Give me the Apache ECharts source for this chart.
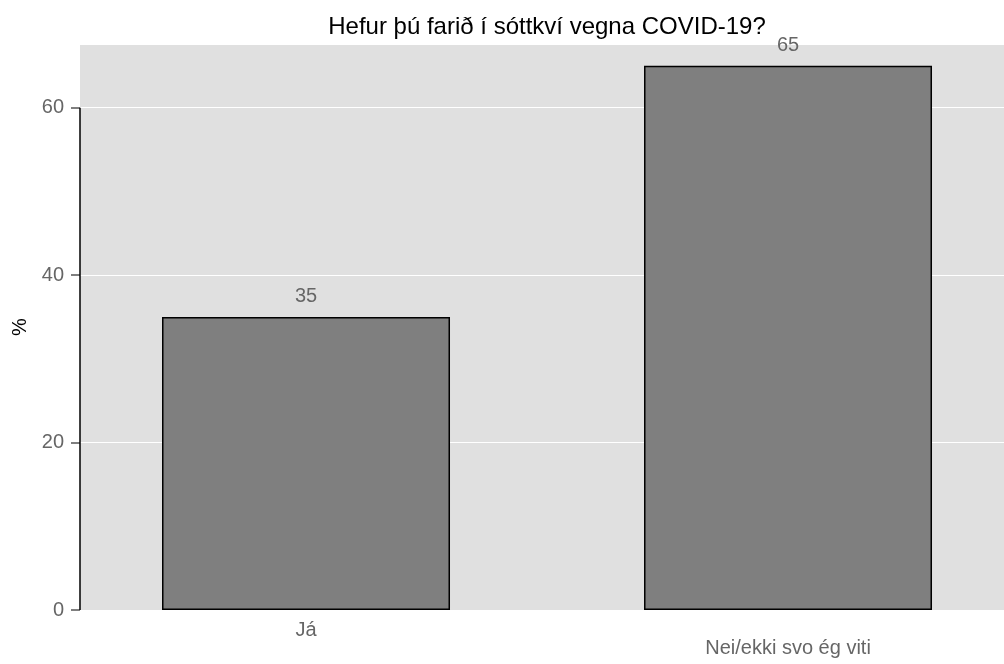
<!DOCTYPE html>
<html>
<head>
<meta charset="utf-8">
<script src="https://cdn.jsdelivr.net/npm/echarts@6/dist/echarts.min.js"></script>
<style>
    html, body { margin: 0; padding: 0; background: #ffffff; }
    #main { width: 1004px; height: 664px; }
</style>
</head>
<body>
<div id="main"></div>
<script>
// data
var categories = ["Já", "Nei/ekki svo ég viti"];
var positions = [1, 2];
var values = [35, 65];
var yTicks = [0, 20, 40, 60];

var xMin = 0.5311;
var xMax = 2.4481;

function char1() {
    var myChart = echarts.init(document.getElementById("main"));

    var barData = positions.map(function (p, i) {
        return [p, values[i]];
    });

    var option = {
        animation: false,
        textStyle: { fontFamily: "Liberation Sans, Arial, sans-serif" },
        title: {
            text: "Hefur þú farið í sóttkví vegna COVID-19?",
            left: 542,
            textAlign: "center",
            top: 10,
            textStyle: {
                color: "#000000",
                fontSize: 24,
                fontWeight: "normal",
            },
        },
        grid: {
            left: 80,
            right: 0,
            top: 44,
            bottom: 54,
            show: true,
            backgroundColor: "#e0e0e0",
            borderWidth: 0,
            outerBoundsMode: "none",
            containLabel: false,
        },
        xAxis: {
            type: "value",
            min: xMin,
            max: xMax,
            axisLine: { show: false },
            axisTick: { show: false },
            splitLine: { show: false },
            axisLabel: {
                customValues: positions,
                margin: 10,
                color: "#666666",
                fontSize: 20,
                formatter: function (v) {
                    var i = positions.indexOf(v);
                    if (i < 0) return "";
                    return i % 2 === 0 ? "{a|" + categories[i] + "}" : "{b|" + categories[i] + "}";
                },
                rich: {
                    a: { color: "#666666", fontSize: 20 },
                    b: { color: "#666666", fontSize: 20, padding: [18, 0, 0, 0] },
                },
            },
        },
        yAxis: {
            type: "value",
            min: 0,
            max: 67.6,
            interval: 20,
            name: "%",
            nameLocation: "middle",
            nameGap: 50,
            nameRotate: 90,
            nameTextStyle: { color: "#000000", fontSize: 20 },
            axisLine: { show: false },
            axisTick: { show: true, length: 9, lineStyle: { color: "#555555", width: 1.5 } },
            axisLabel: {
                color: "#666666",
                fontSize: 20,
                margin: 16,
                showMaxLabel: false,
                formatter: function (v) {
                    return yTicks.indexOf(v) >= 0 ? String(v) : "";
                },
            },
            splitLine: { show: true, lineStyle: { color: "#ffffff", width: 1.2 } },
        },
        series: [
            {
                type: "bar",
                data: barData,
                barWidth: 288,
                itemStyle: {
                    color: "#7f7f7f",
                    borderColor: "#000000",
                    borderWidth: 1.5,
                },
                label: {
                    show: true,
                    position: "top",
                    distance: 10,
                    color: "#666666",
                    fontSize: 20,
                    formatter: function (p) {
                        return p.value[1];
                    },
                },
                // y axis line runs only from the first to the last tick
                markLine: {
                    silent: true,
                    symbol: "none",
                    label: { show: false },
                    lineStyle: { color: "#000000", width: 1.5, type: "solid" },
                    data: [
                        [
                            { coord: [xMin, yTicks[0]] },
                            { coord: [xMin, yTicks[yTicks.length - 1]] },
                        ],
                    ],
                },
            },
        ],
    };

    myChart.setOption(option);
    window.addEventListener("resize", function () {
        myChart.resize();
    });
}

char1();
</script>
</body>
</html>
